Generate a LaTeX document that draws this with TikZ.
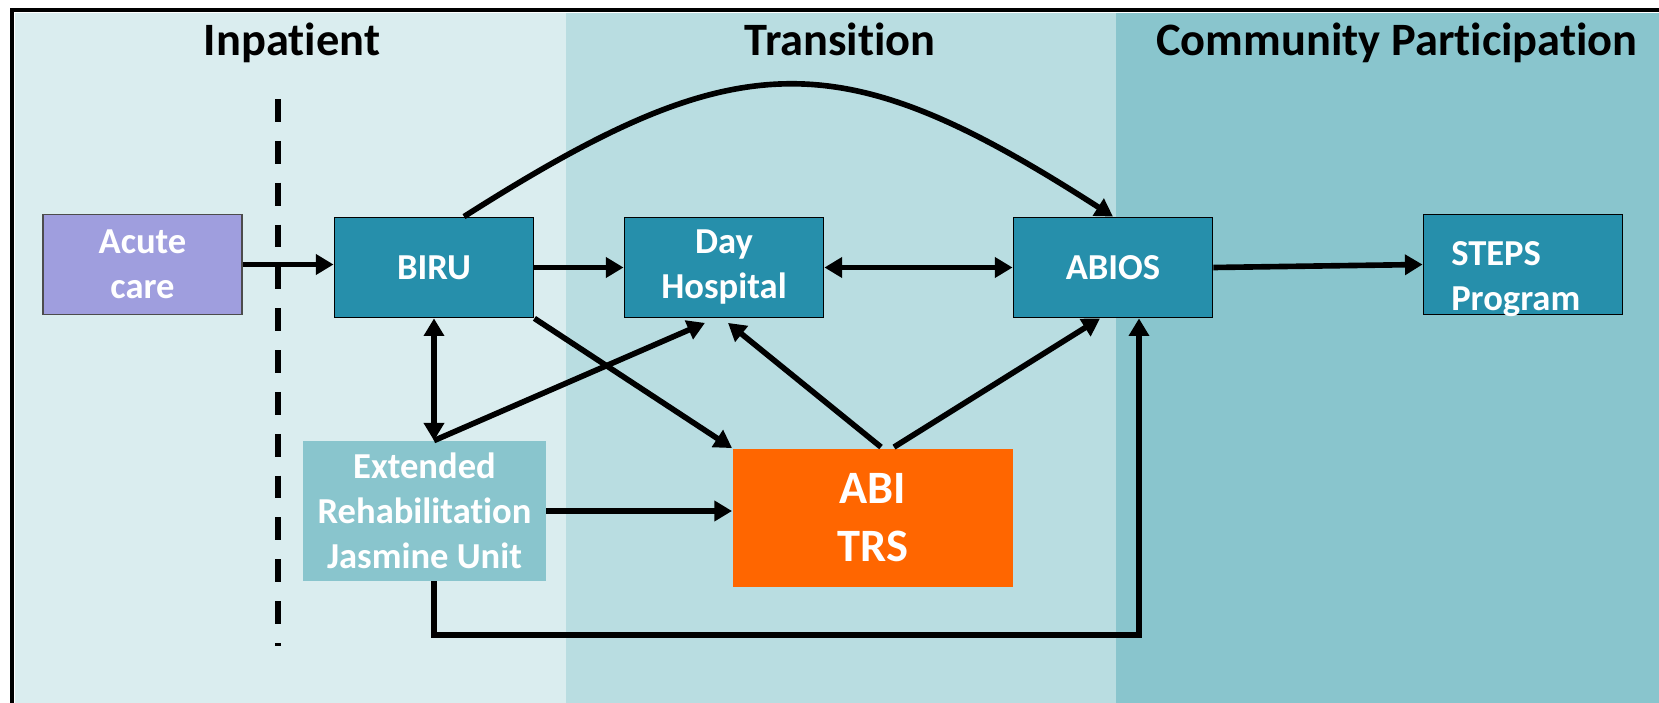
\documentclass[tikz,border=0pt]{standalone}
\usepackage{fontspec}
\setmainfont{Carlito}[Ligatures=NoCommon]
\usetikzlibrary{arrows.meta}

\definecolor{inpatbg}{HTML}{DAEDEF}
\definecolor{transbg}{HTML}{B9DDE1}
\definecolor{commbg}{HTML}{89C5CD}
\definecolor{unitteal}{HTML}{268FAB}
\definecolor{acutelav}{HTML}{9F9EDE}
\definecolor{trsorange}{HTML}{FF6600}

\begin{document}
\begin{tikzpicture}[x=0.01cm, y=-0.01cm, >={Triangle[length=5pt,width=5.6pt]},
    unittxt/.style={text=white, font=\fontsize{10.4}{12.8}\selectfont\bfseries, align=center, inner sep=0pt},
    unit/.style={unittxt, draw=black, line width=0.5pt, fill=unitteal, minimum width=1.99cm, minimum height=1.0cm},
    flow/.style={->, line width=1.6pt},
    phase/.style={font=\fontsize{13.2}{15}\selectfont\bfseries, anchor=base}]
    % 1. 背景分区与外框
    \useasboundingbox (0,0) rectangle (1659,703);
    \fill[white] (0,0) rectangle (1659,703);
    \fill[inpatbg] (15,13) rectangle (566,703);
    \fill[transbg] (566,13) rectangle (1116,703);
    \fill[commbg] (1116,13) rectangle (1659,703);
    \draw[line width=1.3pt] (12,703) -- (12,10) -- (1659,10);

    % 2. 各阶段标题
    \node[phase] (inpat) at (292,55) {Inpatient};
    \node[phase] (trans) at (840,55) {Transition};
    \node[phase] (comm) at (1397,55) {Community Participation};

    % 3. 虚线分隔
    \draw[line width=1.5pt, dash pattern=on 6.5pt off 5.4pt] (278,99) -- (278,646);

    % 4. 各个单元
    \node[unit, fill=acutelav, draw=black!70] (acute) at (142.5,264.5) {Acute\\care};
    \node[unit] (biru) at (434,267.5) {BIRU};
    \node[unit] (dayhosp) at (724,267.5) {Day\\Hospital};
    \node[unit] (abios) at (1113,267.5) {ABIOS};
    \node[unit] (steps) at (1523,264.5) {};
    \node[unittxt, align=left, anchor=west, xshift=0.28cm, yshift=-0.15cm] (stepstxt) at (steps.west) {STEPS\\Program};
    \node[unit, fill=commbg, draw=none, minimum width=2.42cm, minimum height=1.39cm] (ext) at (424.5,511) {Extended\\Rehabilitation\\Jasmine Unit};
    \node[unit, fill=trsorange, draw=none, minimum width=2.8cm, minimum height=1.38cm,
        font=\fontsize{13.2}{16.5}\selectfont\bfseries] (trs) at (873,518) {ABI\\TRS};

    % 5. 连接箭头
    \draw[flow] (acute.east) -- (acute.east -| biru.west);
    \draw[flow] (biru.east) -- (dayhosp.west);
    \draw[flow, <->] (dayhosp.east) -- (abios.west);
    \draw[flow] (abios.east) -- (steps.west);
    \draw[flow] ([xshift=0.3cm]biru.north) .. controls (740,41) and (840,41) .. (abios.north);
    \draw[flow, <->] (biru.south) -- (biru.south |- ext.north);
    \draw[flow] (biru.south |- ext.north) -- ([xshift=-0.19cm, yshift=-0.045cm]dayhosp.south);
    \draw[flow] (biru.south east) -- (trs.north west);
    \draw[flow] ([xshift=0.08cm, yshift=0.01cm]trs.north) -- ([xshift=0.04cm, yshift=-0.045cm]dayhosp.south);
    \draw[flow] ([xshift=0.21cm, yshift=0.01cm]trs.north) -- ([xshift=-0.13cm]abios.south);
    \draw[flow] (ext.east) -- (ext.east -| trs.west);
    % 从 Jasmine Unit 绕到 ABIOS
    \coordinate (detour) at (1139,635);
    \draw[flow] (biru.south |- ext.south) |- (detour) -- (detour |- abios.south);
\end{tikzpicture}
\end{document}
